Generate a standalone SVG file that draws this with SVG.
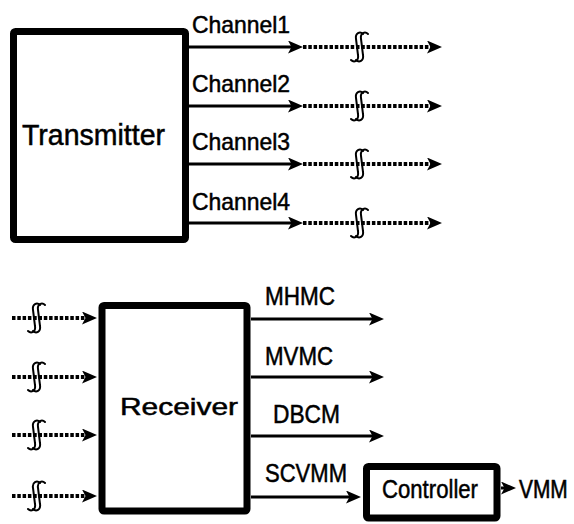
<svg xmlns="http://www.w3.org/2000/svg" width="574" height="524" viewBox="0 0 574 524">
<style>
.box{fill:#fff;stroke:#000;stroke-width:7;stroke-linejoin:round}
.t{font-family:"Liberation Sans",Arial,sans-serif;fill:#000;stroke:#000;stroke-width:0.5}
.sol{stroke:#000;stroke-width:3;fill:none}
.dot{stroke:#000;stroke-width:4;stroke-dasharray:3.5 1.8;fill:none}
.brk{stroke:#000;stroke-width:2;fill:none;stroke-linecap:round}
</style>
<defs>
<marker id="ah" markerUnits="userSpaceOnUse" markerWidth="16" markerHeight="14" refX="9" refY="6.5" orient="auto">
<path d="M0,0 L15,6.5 L0,13 L3.5,6.5 z" fill="#000"/>
</marker>
<g id="brk">
<path class="brk" d="M4,-13 C1,-16 -4,-14 -3,-8 L-1,8 C0,14 -5,16 -8,13"/>
<path class="brk" d="M9,-13 C6,-16 1,-14 2,-8 L4,8 C5,14 0,16 -3,13"/>
</g>
</defs>

<g id="transmitter">
<rect class="box" x="13.5" y="31.5" width="172" height="208" rx="2"/>
<text class="t" x="22" y="145" font-size="29" textLength="143" lengthAdjust="spacingAndGlyphs">Transmitter</text>
</g>

<g id="receiver">
<rect class="box" x="102" y="305.5" width="145" height="205.5" rx="2"/>
<text class="t" x="120" y="415" font-size="24" textLength="118" lengthAdjust="spacingAndGlyphs">Receiver</text>
</g>

<g id="controller">
<rect class="box" x="366.5" y="466.5" width="130.5" height="51.5" rx="2"/>
<text class="t" x="382" y="498" font-size="26" textLength="96" lengthAdjust="spacingAndGlyphs">Controller</text>
</g>

<g id="connectors">
<line class="sol" x1="189" y1="47" x2="297" y2="47" marker-end="url(#ah)"/>
<line class="dot" x1="303" y1="47" x2="436" y2="47" marker-end="url(#ah)"/>
<use href="#brk" x="359" y="47"/>
<line class="sol" x1="189" y1="106" x2="297" y2="106" marker-end="url(#ah)"/>
<line class="dot" x1="303" y1="106" x2="436" y2="106" marker-end="url(#ah)"/>
<use href="#brk" x="359" y="106"/>
<line class="sol" x1="189" y1="164" x2="297" y2="164" marker-end="url(#ah)"/>
<line class="dot" x1="303" y1="164" x2="436" y2="164" marker-end="url(#ah)"/>
<use href="#brk" x="359" y="164"/>
<line class="sol" x1="189" y1="223" x2="297" y2="223" marker-end="url(#ah)"/>
<line class="dot" x1="303" y1="223" x2="436" y2="223" marker-end="url(#ah)"/>
<use href="#brk" x="359" y="223"/>

<line class="dot" x1="12" y1="318" x2="91" y2="318" marker-end="url(#ah)"/>
<use href="#brk" x="36" y="318"/>
<line class="dot" x1="12" y1="377" x2="91" y2="377" marker-end="url(#ah)"/>
<use href="#brk" x="36" y="377"/>
<line class="dot" x1="12" y1="435" x2="91" y2="435" marker-end="url(#ah)"/>
<use href="#brk" x="36" y="435"/>
<line class="dot" x1="12" y1="496" x2="91" y2="496" marker-end="url(#ah)"/>
<use href="#brk" x="36" y="496"/>

<line class="sol" x1="251" y1="319" x2="378" y2="319" marker-end="url(#ah)"/>
<line class="sol" x1="251" y1="377" x2="378" y2="377" marker-end="url(#ah)"/>
<line class="sol" x1="251" y1="436" x2="378" y2="436" marker-end="url(#ah)"/>
<line class="sol" x1="251" y1="497" x2="355" y2="497" marker-end="url(#ah)"/>
<line class="sol" x1="501" y1="488" x2="510" y2="488" marker-end="url(#ah)"/>
</g>

<g id="labels">
<text class="t" x="192" y="33" font-size="24" textLength="98" lengthAdjust="spacingAndGlyphs">Channel1</text>
<text class="t" x="192" y="92" font-size="24" textLength="98" lengthAdjust="spacingAndGlyphs">Channel2</text>
<text class="t" x="192" y="150" font-size="24" textLength="98" lengthAdjust="spacingAndGlyphs">Channel3</text>
<text class="t" x="192" y="210" font-size="24" textLength="98" lengthAdjust="spacingAndGlyphs">Channel4</text>
<text class="t" x="265" y="305" font-size="25" textLength="70" lengthAdjust="spacingAndGlyphs">MHMC</text>
<text class="t" x="265" y="365" font-size="25" textLength="68" lengthAdjust="spacingAndGlyphs">MVMC</text>
<text class="t" x="273" y="423" font-size="25" textLength="67" lengthAdjust="spacingAndGlyphs">DBCM</text>
<text class="t" x="265" y="482" font-size="25" textLength="82" lengthAdjust="spacingAndGlyphs">SCVMM</text>
<text class="t" transform="translate(519,498) scale(0.95,1.2)" font-size="22">VMM</text>
</g>
</svg>
